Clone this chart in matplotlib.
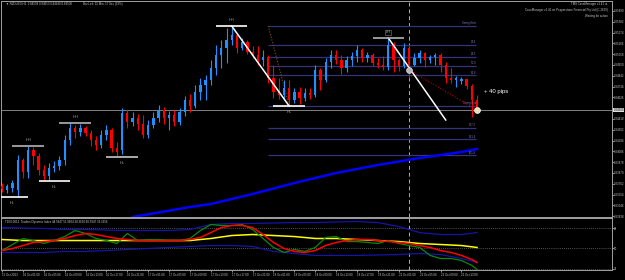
import numpy as np
import matplotlib
matplotlib.use('Agg')
import matplotlib.pyplot as plt
import matplotlib.transforms as mtransforms

plt.rcParams['font.family'] = ['Liberation Sans', 'DejaVu Sans']

# ---------------- data ----------------
opens = [.8374, .8370, .8372, .8370, .8400, .8388, .8410, .8404, .8390, .8384,
         .8392, .8394, .8400, .8420, .8432, .8428, .8432, .8427, .8420, .8415,
         .8425, .8430, .8412, .8410, .8447, .8438, .8442, .8436, .8425, .8435,
         .8442, .8450, .8442, .8445, .8438, .8448, .8460, .8454, .8468, .8475,
         .8480, .8492, .8505, .8512, .8520, .8525, .8512, .8518, .8508, .8505,
         .8500, .8503, .8482, .8468, .8465, .8472, .8460, .8468, .8462, .8467,
         .8465, .8490, .8480, .8498, .8505, .8500, .8492, .8500, .8504, .8510,
         .8502, .8505, .8497, .8495, .8493, .8515, .8500, .8494, .8512, .8495,
         .8502, .8507, .8500, .8503, .8505, .8495, .8482, .8480, .8479, .8481,
         .8474, .8460]
highs = [.8377, .8376, .8380, .8405, .8402, .8414, .8413, .8407, .8395, .8397,
         .8399, .8404, .8425, .8437, .8435, .8436, .8434, .8430, .8424, .8430,
         .8435, .8432, .8418, .8452, .8450, .8448, .8446, .8445, .8440, .8448,
         .8455, .8453, .8449, .8450, .8452, .8464, .8466, .8475, .8482, .8485,
         .8500, .8515, .8520, .8532, .8534, .8527, .8522, .8520, .8514, .8514,
         .8510, .8505, .8495, .8482, .8480, .8480, .8472, .8473, .8472, .8472,
         .8495, .8492, .8502, .8510, .8510, .8505, .8504, .8508, .8515, .8512,
         .8508, .8507, .8502, .8504, .8522, .8518, .8502, .8517, .8515, .8507,
         .8510, .8508, .8505, .8507, .8507, .8498, .8492, .8484, .8483, .8481,
         .8476, .8465]
lows = [.8368, .8367, .8368, .8363, .8382, .8382, .8395, .8385, .8379, .8380,
        .8388, .8390, .8395, .8415, .8422, .8424, .8424, .8414, .8410, .8412,
        .8420, .8408, .8404, .8406, .8432, .8434, .8430, .8422, .8422, .8432,
        .8438, .8436, .8430, .8434, .8435, .8444, .8448, .8452, .8460, .8460,
        .8475, .8485, .8492, .8497, .8515, .8507, .8510, .8506, .8502, .8495,
        .8494, .8477, .8462, .8461, .8460, .8454, .8457, .8456, .8459, .8461,
        .8463, .8470, .8478, .8492, .8496, .8486, .8488, .8494, .8498, .8498,
        .8498, .8494, .8492, .8490, .8490, .8488, .8489, .8492, .8482, .8494,
        .8497, .8493, .8497, .8495, .8488, .8477, .8477, .8473, .8476, .8471,
        .8443, .8448]
closes = [.8371, .8374, .8377, .8400, .8388, .8410, .8404, .8390, .8384, .8392,
          .8394, .8400, .8420, .8432, .8428, .8432, .8427, .8420, .8415, .8425,
          .8430, .8412, .8408, .8447, .8438, .8442, .8436, .8425, .8435, .8442,
          .8450, .8442, .8445, .8438, .8448, .8460, .8454, .8468, .8475, .8480,
          .8492, .8505, .8512, .8520, .8525, .8512, .8518, .8508, .8505, .8500,
          .8503, .8482, .8468, .8465, .8472, .8460, .8468, .8462, .8467, .8465,
          .8490, .8480, .8498, .8505, .8500, .8492, .8500, .8504, .8510, .8502,
          .8505, .8497, .8495, .8493, .8515, .8500, .8494, .8512, .8495, .8502,
          .8507, .8500, .8503, .8505, .8495, .8482, .8480, .8482, .8481, .8474,
          .8460, .8450]

time_labels = ["15 Oct 2013", "16 Oct 01:00", "16 Oct 05:00", "16 Oct 09:00",
               "16 Oct 13:00", "16 Oct 17:00", "16 Oct 21:00", "17 Oct 01:00",
               "17 Oct 05:00", "17 Oct 09:00", "17 Oct 13:00", "17 Oct 17:00",
               "17 Oct 21:00", "18 Oct 01:00", "18 Oct 05:00", "18 Oct 09:00",
               "18 Oct 13:00", "18 Oct 17:00", "18 Oct 21:00", "21 Oct 01:00",
               "21 Oct 05:00", "21 Oct 09:00", "21 Oct 13:00"]
time_label_bars = [0, 4, 8, 12, 16, 20, 24, 28, 32, 36, 40, 44, 48, 52, 56,
                   60, 64, 68, 72, 76, 80, 84, 88]

# price scale labels
price_ticks = [0.85490, 0.85382, 0.85274, 0.85166, 0.85058, 0.84950, 0.84842,
               0.84734, 0.84626, 0.84410, 0.84302, 0.84194, 0.84086,
               0.83978, 0.83870, 0.83762, 0.83654, 0.83546, 0.83438]

# moving average (blue)
ma_bars = [25, 30, 36, 40, 48, 56, 64, 72, 80, 88, 91]
ma_vals = [.8343, .83475, .8353, .8356, .8366, .8377, .8387, .8395, .8402, .8408, .8411]

# swing labels
swing_bars = [2, 5, 10, 14, 23, 44, 55, 74]
swing_prices = [.8363, .8414, .8379, .8437, .8403, .8534, .8454, .8522]
swing_labels = ['HL', 'HH', 'HL', 'HH', 'HL', 'HH', 'HL', 'LH']
swing_colors = ['#ffffff', '#b4b4b4', '#ffffff', '#b4b4b4', '#c8c8c8', '#ffffff', '#ffffff', '#b4b4b4']

# fibonacci
fib_high = .8534
fib_low = .8454
fib_bar_start = 51
fib_bar_anchor2 = 55
fib_bar_end = 90.8
fib_ratios = [0, 23.6, 38.2, 50.0, 61.8, 100, 127.2, 141.4, 161.8]
fib_names = ['Swing Start', '23.6', '38.2', '50.0', '61.8', 'Swing End', '127.2', '141.4', '161.8']

# trend lines
trend1 = ([44, 55], [.8534, .8454])
trend2 = ([74, 85], [.8522, .8440])
trade_line = ([78, 91], [.8490, .8450])
bid = .8450
separator_bar = 78

# TDI
tdi_bars2 = list(range(0, 92, 2)) + [91]
tdi_green = [48.2, 53.5, 58.8, 57.0, 54.4, 57.0, 60.5, 65.8, 63.2, 58.8,
             57.0, 54.4, 63.2, 57.0, 57.9, 57.9, 57.0, 57.0, 58.8, 65.8,
             71.1, 70.2, 70.2, 71.1, 66.7, 58.8, 50.9, 46.5, 49.1, 47.4,
             50.9, 59.7, 60.5, 56.1, 56.1, 55.3, 54.4, 57.0, 54.4, 52.6,
             50.9, 43.9, 41.2, 41.2, 39.5, 35.1, 31.6]
tdi_red = [48.2, 50.0, 52.6, 55.3, 56.1, 57.0, 58.8, 61.4, 63.2, 62.3,
           60.5, 58.8, 57.9, 57.0, 57.0, 57.0, 57.0, 57.0, 57.9, 59.7,
           64.0, 68.4, 70.2, 70.2, 68.4, 62.3, 55.3, 50.0, 47.4, 46.5,
           48.2, 52.6, 55.3, 57.0, 57.9, 57.9, 57.0, 56.1, 55.3, 54.4,
           52.6, 50.9, 48.2, 46.5, 43.9, 40.3, 37.7]
tdi_bars4 = list(range(0, 92, 4)) + [91]
tdi_yellow = [57.9, 57.0, 57.0, 57.0, 57.0, 57.0, 57.0, 57.0, 57.0, 57.0,
              58.8, 61.4, 62.3, 61.4, 60.5, 58.8, 58.8, 57.9, 57.0, 56.1,
              54.4, 53.5, 52.6, 50.9]
tdi_upper = [68.4, 68.0, 67.6, 66.7, 66.7, 66.2, 65.8, 65.8, 65.8, 66.7,
             71.1, 72.0, 72.0, 72.4, 72.8, 72.8, 73.3, 73.7, 72.8, 69.3,
             64.0, 62.3, 62.3, 64.0]
tdi_lower = [46.5, 46.5, 46.5, 47.4, 47.4, 48.2, 49.1, 50.0, 50.9, 51.8,
             52.6, 52.6, 51.8, 47.4, 45.6, 43.9, 43.9, 43.9, 44.3, 44.7,
             45.6, 44.7, 41.2, 37.7]
tdi_levels = [68, 50, 32]

# ---------------- figure ----------------
W, H = 625, 280
fig = plt.figure(figsize=(W / 100, H / 100), dpi=100, facecolor='black')
bar_px = 5.22
ax_left, ax_right = 1, 612
main_top, main_bot = 1, 217
ind_top, ind_bot = 218, 270

ax = fig.add_axes([ax_left / W, (H - main_bot) / H, (ax_right - ax_left) / W, (main_bot - main_top) / H])
ax2 = fig.add_axes([ax_left / W, (H - ind_bot) / H, (ax_right - ax_left) / W, (ind_bot - ind_top) / H])

xmin = -0.2
xmax = xmin + (ax_right - ax_left) / bar_px
for a in (ax, ax2):
    a.set_facecolor('black')
    a.set_xlim(xmin, xmax)
    for s in a.spines.values():
        s.set_color('#a0a0a0')
        s.set_linewidth(0.7)

ax.set_ylim(0.8560 - 0.0001 * main_bot, 0.8560 - 0.0001 * main_top)
ax2.set_ylim(31.1, 76.8)

fs = 2.1
tc = '#c8c8c8'

# candles
idx = np.arange(len(opens))
o = np.array(opens); h = np.array(highs); l = np.array(lows); c = np.array(closes)
up = c >= o
cols = np.where(up, '#1e90ff', '#ff0000')
ax.vlines(idx, l, h, colors=cols, linewidth=0.8, zorder=3)
body_b = np.minimum(o, c)
body_h = np.maximum(np.abs(c - o), 0.00008)
ax.bar(idx, body_h, bottom=body_b, width=0.45, color=cols, linewidth=0, zorder=4)

# bid line
ax.axhline(bid, color='#808080', linewidth=0.7, zorder=1)

# MA
ax.plot(ma_bars, ma_vals, color='#0000ff', linewidth=1.8, zorder=2)

# fib
rng = fib_high - fib_low
for r, name in zip(fib_ratios, fib_names):
    p = fib_high - r / 100.0 * rng
    ax.hlines(p, fib_bar_start, fib_bar_end, color='#34347e', linewidth=0.9, zorder=1.5)
    ax.text(fib_bar_end, p + 0.00005, name, color='#7a7ab8', fontsize=2.0,
            ha='right', va='bottom', zorder=5)
ax.plot([fib_bar_start, fib_bar_anchor2], [fib_high, fib_low], color='#8b4a1a',
        linestyle=(0, (1, 1.5)), linewidth=0.8, zorder=2)

# trend lines
ax.plot(trend1[0], trend1[1], color='white', linewidth=1.1, zorder=5)
ax.plot(trend2[0], trend2[1], color='white', linewidth=1.1, zorder=5)
ax.plot(trade_line[0], trade_line[1], color='#b00000', linestyle=(0, (1, 1.5)), linewidth=0.8, zorder=5)
ax.plot([trade_line[0][0]], [trade_line[1][0]], 'o', markersize=4.2, markerfacecolor='#b8b8b8',
        markeredgecolor='#e0e0e0', markeredgewidth=0.5, zorder=6)
ax.plot([trade_line[0][1]], [trade_line[1][1]], 'o', markersize=4.2, markerfacecolor='#e8e0b0',
        markeredgecolor='#ffffff', markeredgewidth=0.5, zorder=6)
ax.text(trade_line[0][1] + 1.4, trade_line[1][1] + 0.0018, '+ 40 pips', color='white',
        fontsize=4.3, ha='left', va='center', zorder=6)

# swing markers
for b, p, lab, col in zip(swing_bars, swing_prices, swing_labels, swing_colors):
    ax.hlines(p, b - 3, b + 3, color=col, linewidth=1.2, zorder=5)
    if lab == 'HL':
        ax.annotate(lab, (b, p), xytext=(0, -4.5), textcoords='offset points',
                    color='#a8a8a8', fontsize=2.8, ha='center', va='center')
    else:
        ax.annotate(lab, (b, p), xytext=(0, 4.0), textcoords='offset points',
                    color='#a8a8a8', fontsize=2.8, ha='center', va='center',
                    bbox=dict(boxstyle='square,pad=0.15', fc='none', ec='#808080', lw=0.4) if lab == 'LH' else None)

# vertical separator
for a in (ax, ax2):
    a.axvline(separator_bar, color='#b0b0b0', linestyle=(0, (4, 3)), linewidth=0.7, zorder=1)

# price axis
ax.yaxis.tick_right()
ax.set_yticks(price_ticks)
ax.set_yticklabels(['%.5f' % t for t in price_ticks])
ax.tick_params(axis='y', colors=tc, labelsize=fs, length=1.2, width=0.5, pad=0.4)
ax.tick_params(axis='x', bottom=False, labelbottom=False)
ax.text(1.0025, bid, '%.5f' % bid, transform=mtransforms.blended_transform_factory(ax.transAxes, ax.transData),
        fontsize=fs, color='black', va='center', ha='left',
        bbox=dict(boxstyle='square,pad=0.12', fc='#e0e0e0', ec='none'), zorder=10, clip_on=False)

# texts top
fig.text(6 / W, 1 - 4 / H, '\u25bc NZDUSD,H1  0.84598 0.84653 0.84480 0.84500', color=tc, fontsize=fs,
         ha='left', va='center')
fig.text(83 / W, 1 - 4 / H, 'Bar Left: 32 Min: 17 Sec (33%)', color=tc, fontsize=fs, ha='left', va='center')
fig.text(608 / W, 1 - 3.5 / H, 'TMS CaveManager v1.41 \u263a', color=tc, fontsize=fs, ha='right', va='center')
fig.text(608 / W, 1 - 9.5 / H, 'CaveManager v1.41 on Pepperstone Financial Pty Ltd (C-2629)', color=tc,
         fontsize=fs, ha='right', va='center')
fig.text(608 / W, 1 - 15.5 / H, 'Waiting for action', color=tc, fontsize=fs, ha='right', va='center')

# TDI
for lv in tdi_levels:
    ax2.axhline(lv, color='#707070', linestyle=(0, (1, 1.5)), linewidth=0.6, zorder=1)
ax2.plot(tdi_bars4, tdi_upper, color='#1515a8', linewidth=0.9, zorder=2)
ax2.plot(tdi_bars4, tdi_lower, color='#1515a8', linewidth=0.9, zorder=2)
ax2.plot(tdi_bars4, tdi_yellow, color='#ffff00', linewidth=1.1, zorder=3)
ax2.plot(tdi_bars2, tdi_green, color='#0a8a0a', linewidth=0.9, zorder=4)
ax2.plot(tdi_bars2, tdi_red, color='#ff0000', linewidth=1.1, zorder=5)
ax2.yaxis.tick_right()
ax2.set_yticks(tdi_levels)
ax2.set_yticklabels([str(v) for v in tdi_levels])
ax2.tick_params(axis='y', colors=tc, labelsize=fs, length=1.2, width=0.5, pad=0.4)
ax2.text(0.006, 0.93, 'TDI 0.0012  Traders Dynamic Index 44.5847 51.9604 38.3630 60.5947 39.3256',
         transform=ax2.transAxes, color=tc, fontsize=fs, ha='left', va='center')

ax2.set_xticks(time_label_bars)
ax2.set_xticklabels(time_labels)
for t in ax2.get_xticklabels():
    t.set_horizontalalignment('left')
ax2.tick_params(axis='x', colors=tc, labelsize=fs, length=1.5, width=0.5, pad=1)

fig.savefig('out.png', dpi=100, facecolor='black')
